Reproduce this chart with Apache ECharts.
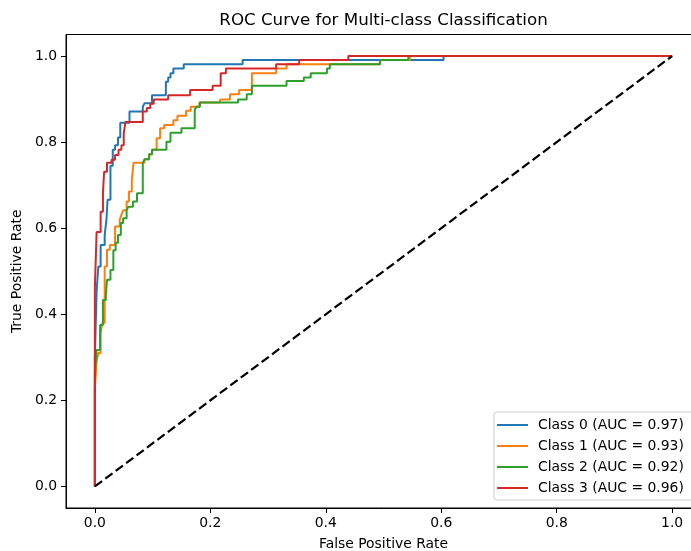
<!DOCTYPE html>
<html>
<head>
<meta charset="utf-8">
<script src="https://cdn.jsdelivr.net/npm/echarts@6.0.0/dist/echarts.min.js"></script>
<style>
  html, body { margin: 0; padding: 0; background: #fff; }
  #chart { width: 691px; height: 551px; }
</style>
</head>
<body>
<div id="chart"></div>
<script>
// ROC corner points (step goes right, then up)
const class0Fpr = [0, 0, 0.003, 0.006, 0.010, 0.017, 0.020, 0.022, 0.027, 0.031, 0.035, 0.040, 0.044, 0.060, 0.083, 0.086, 0.099, 0.123, 0.127, 0.131, 0.136, 0.154, 0.256, 0.604, 1]
const class0Tpr = [0, 0.30, 0.453, 0.511, 0.561, 0.584, 0.619, 0.666, 0.745, 0.782, 0.793, 0.811, 0.845, 0.871, 0.882, 0.890, 0.909, 0.940, 0.950, 0.960, 0.971, 0.981, 0.991, 1.0, 1.0]

const class1Fpr = [0, 0, 0.003, 0.006, 0.010, 0.013, 0.017, 0.021, 0.026, 0.035, 0.043, 0.046, 0.049, 0.055, 0.059, 0.064, 0.067, 0.086, 0.094, 0.099, 0.107, 0.113, 0.120, 0.136, 0.143, 0.158, 0.166, 0.181, 0.217, 0.234, 0.250, 0.272, 0.314, 0.332, 0.494, 0.546, 1]
const class1Tpr = [0, 0.228, 0.290, 0.310, 0.356, 0.380, 0.511, 0.550, 0.561, 0.604, 0.619, 0.631, 0.642, 0.662, 0.685, 0.712, 0.752, 0.760, 0.772, 0.782, 0.809, 0.832, 0.840, 0.851, 0.861, 0.873, 0.882, 0.892, 0.899, 0.911, 0.921, 0.960, 0.971, 0.981, 0.991, 1.0, 1.0]

const class2Fpr = [0, 0, 0.003, 0.009, 0.014, 0.019, 0.021, 0.027, 0.032, 0.036, 0.040, 0.045, 0.049, 0.055, 0.058, 0.066, 0.073, 0.083, 0.086, 0.094, 0.099, 0.124, 0.131, 0.150, 0.173, 0.176, 0.182, 0.248, 0.263, 0.272, 0.332, 0.362, 0.374, 0.402, 0.407, 0.494, 0.543, 1]
const class2Tpr = [0, 0.259, 0.317, 0.375, 0.433, 0.445, 0.480, 0.503, 0.549, 0.566, 0.584, 0.612, 0.623, 0.642, 0.650, 0.662, 0.681, 0.751, 0.760, 0.772, 0.782, 0.801, 0.822, 0.832, 0.875, 0.882, 0.892, 0.899, 0.911, 0.931, 0.942, 0.950, 0.960, 0.971, 0.981, 0.991, 1.0, 1.0]

const class3Fpr = [0, 0, 0.003, 0.010, 0.014, 0.016, 0.021, 0.029, 0.035, 0.041, 0.046, 0.050, 0.053, 0.083, 0.090, 0.096, 0.102, 0.127, 0.165, 0.204, 0.218, 0.227, 0.314, 0.354, 0.439, 1]
const class3Tpr = [0, 0.461, 0.591, 0.638, 0.681, 0.731, 0.752, 0.759, 0.770, 0.782, 0.793, 0.820, 0.847, 0.871, 0.879, 0.889, 0.899, 0.909, 0.921, 0.931, 0.960, 0.971, 0.981, 0.991, 1.0, 1.0]

const chanceX = [0, 1]
const chanceY = [0, 1]

const aucValues = [0.97, 0.93, 0.92, 0.96]
const tickValues = [0, 0.2, 0.4, 0.6, 0.8, 1.0]

const colors = ['#1f77b4', '#ff7f0e', '#2ca02c', '#d62728']
const curves = [
	[class0Fpr, class0Tpr],
	[class1Fpr, class1Tpr],
	[class2Fpr, class2Tpr],
	[class3Fpr, class3Tpr]
]
const zip = (xs, ys) => xs.map((x, i) => [x, ys[i]])
const font = 'DejaVu Sans'

const series = curves.map((c, i) => ({
	name: 'Class ' + i + ' (AUC = ' + aucValues[i].toFixed(2) + ')',
	type: 'line',
	step: 'end',
	symbol: 'none',
	data: zip(c[0], c[1]),
	lineStyle: { width: 2, color: colors[i] },
	itemStyle: { color: colors[i] },
	z: 2 + i
}))
series.push({
	name: 'chance',
	type: 'line',
	symbol: 'none',
	data: zip(chanceX, chanceY),
	lineStyle: { width: 2.2, color: '#000', type: [9, 4] },
	z: 10
})

const chart = echarts.init(document.getElementById('chart'))
const option = {
	animation: false,
	graphic: [{
		type: 'text',
		x: 383.5,
		y: 21,
		style: {
			text: 'ROC Curve for Multi-class Classification',
			font: '16.7px "DejaVu Sans"',
			fill: '#000',
			textAlign: 'center',
			textVerticalAlign: 'middle'
		}
	}],
	grid: {
		left: 66,
		top: 34.5,
		right: -10,
		bottom: 43,
		outerBoundsMode: 'none',
		show: true,
		borderColor: '#000',
		borderWidth: 1
	},
	legend: {
		data: series.slice(0, 4).map(s => s.name),
		orient: 'vertical',
		left: 494,
		top: 412,
		icon: 'rect',
		itemWidth: 31,
		itemHeight: 2,
		itemGap: 7,
		selectedMode: false,
		padding: [6, 12, 5, 3],
		backgroundColor: 'rgba(255,255,255,0.8)',
		borderColor: '#cccccc',
		borderWidth: 1,
		borderRadius: 3,
		textStyle: { fontSize: 13.9, fontFamily: font, color: '#000', lineHeight: 14, padding: [0, 0, 0, 5] }
	},
	xAxis: {
		type: 'value',
		min: -0.05,
		max: 1.05,
		name: 'False Positive Rate',
		nameLocation: 'middle',
		nameGap: 29,
		nameTextStyle: { fontSize: 13.9, fontFamily: font, color: '#000' },
		axisLine: { show: true, onZero: false, lineStyle: { color: '#000', width: 1 } },
		axisTick: { show: true, customValues: tickValues, length: 5, lineStyle: { color: '#000' } },
		axisLabel: { customValues: tickValues, formatter: v => v.toFixed(1), margin: 8, fontSize: 13.9, fontFamily: font, color: '#000' },
		splitLine: { show: false }
	},
	yAxis: {
		type: 'value',
		min: -0.05,
		max: 1.05,
		name: 'True Positive Rate',
		nameLocation: 'middle',
		nameRotate: 90,
		nameGap: 33,
		nameTextStyle: { fontSize: 13.9, fontFamily: font, color: '#000' },
		axisLine: { show: true, onZero: false, lineStyle: { color: '#000', width: 1 } },
		axisTick: { show: true, customValues: tickValues, length: 5, lineStyle: { color: '#000' } },
		axisLabel: { customValues: tickValues, formatter: v => v.toFixed(1), margin: 9, fontSize: 13.9, fontFamily: font, color: '#000' },
		splitLine: { show: false }
	},
	series: series
}
chart.setOption(option)
</script>
</body>
</html>
